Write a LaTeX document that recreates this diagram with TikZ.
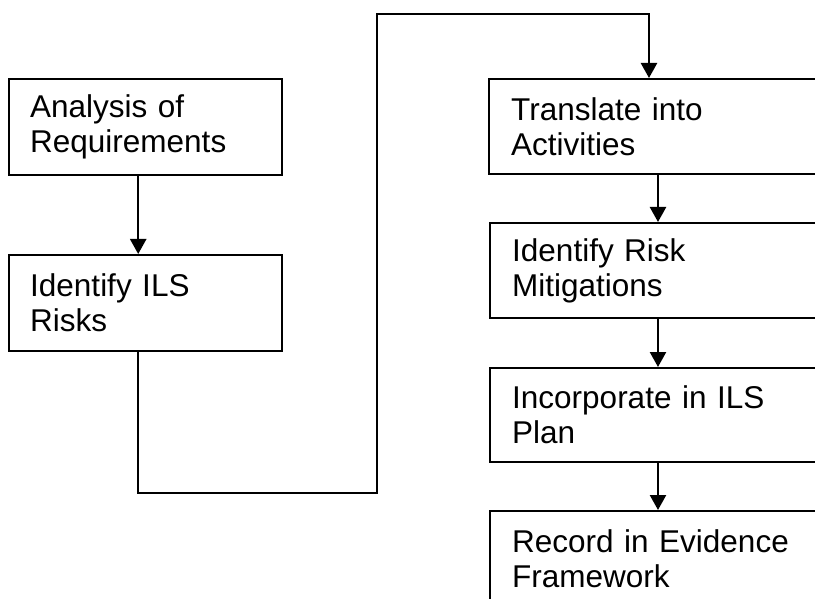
\documentclass[tikz,border=0pt]{standalone}
\usepackage{fontspec}
\setmainfont{Liberation Sans}
\usetikzlibrary{arrows.meta}

\begin{document}
\begin{tikzpicture}[x=1pt,y=-1pt,line width=2.4pt,
    stepbox/.style={draw,anchor=north west,align=left,inner ysep=0pt,
      font=\fontsize{31.5}{35}\selectfont},
    leftbox/.style={stepbox,inner xsep=21pt,text width=231pt,minimum height=96pt},
    rightbox/.style={stepbox,inner xsep=22pt,text width=316pt,minimum height=95pt},
    arr/.style={-{Triangle[length=15pt,width=16pt]}}]
    \clip (0,0) rectangle (815,599);
    \node[leftbox] (anal) at (8,78) {Analysis of\\Requirements};
    \node[leftbox] (risks) at (8,254) {Identify ILS\\Risks};
    \node[rightbox] (trans) at (488,78) {Translate into\\Activities};
    \node[rightbox] (mitig) at (489,222) {Identify Risk\\Mitigations};
    \node[rightbox,minimum height=94pt] (plan) at (489,367) {Incorporate in ILS\\Plan};
    \node[rightbox] (record) at (489,510) {Record in Evidence\\Framework};
    \coordinate (low) at (377,493);
    \coordinate (high) at (377,14);
    \draw[arr] ([xshift=-7.5pt]anal.south) -- ([xshift=-7.5pt]risks.north);
    \draw[arr] ([xshift=-7.5pt]risks.south) |- (low) -- (high) -| ([xshift=161pt]trans.north west);
    \draw[arr] ([xshift=170pt]trans.south west) -- ([xshift=169pt]mitig.north west);
    \draw[arr] ([xshift=169pt]mitig.south west) -- ([xshift=169pt]plan.north west);
    \draw[arr] ([xshift=169pt]plan.south west) -- ([xshift=169pt]record.north west);
\end{tikzpicture}
\end{document}
